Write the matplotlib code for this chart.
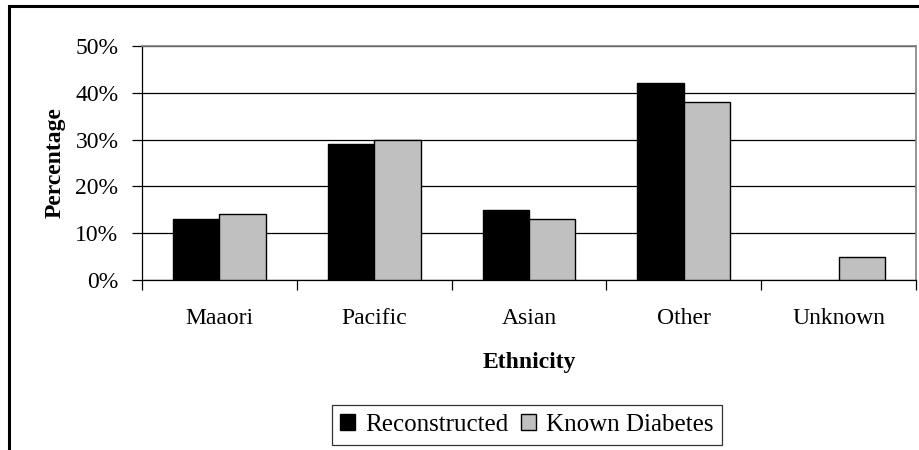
import matplotlib.pyplot as plt
import matplotlib.patches as mpatches
import numpy as np

ethnicity = ['Maaori', 'Pacific', 'Asian', 'Other', 'Unknown']
reconstructed = [13, 29, 15, 42, 0]
known_diabetes = [14, 30, 13, 38, 5]

plt.rcParams['font.family'] = ['Liberation Serif', 'DejaVu Serif']

fig = plt.figure(figsize=(9.2, 4.5), dpi=100)
ax = fig.add_axes([142 / 920, 1 - 280 / 450, 774 / 920, 234 / 450])

x = np.arange(len(ethnicity))
w = 0.3
ax.bar(x - w / 2, reconstructed, w, color='black', edgecolor='black',
       linewidth=[1 if v > 0 else 0 for v in reconstructed],
       label='Reconstructed', zorder=3)
ax.bar(x + w / 2, known_diabetes, w, color='#c0c0c0', edgecolor='black',
       linewidth=[1 if v > 0 else 0 for v in known_diabetes],
       label='Known Diabetes', zorder=3)

ax.set_xlim(-0.5, len(ethnicity) - 0.5)
ax.set_ylim(0, 50)
ax.set_yticks(range(0, 51, 10))
ax.set_yticklabels([f'{v}%' for v in range(0, 51, 10)], fontsize=17)
ax.yaxis.grid(True, color='black', linewidth=0.9, zorder=0)

# category labels between boundary ticks
ax.set_xticks(np.arange(-0.5, len(ethnicity), 1))
ax.set_xticklabels([])
ax.set_xticks(x, minor=True)
ax.set_xticklabels(ethnicity, minor=True, fontsize=17)
ax.tick_params(axis='x', which='minor', length=0, pad=20)
ax.tick_params(axis='x', which='major', length=7, direction='out', width=0.9)
ax.tick_params(axis='y', length=7, direction='out', width=0.9, pad=10)

for side in ['top', 'right']:
    ax.spines[side].set_color('#808080')
    ax.spines[side].set_linewidth(1.2)
for side in ['left', 'bottom']:
    ax.spines[side].set_color('black')
    ax.spines[side].set_linewidth(0.9)

ax.set_xlabel('Ethnicity', fontsize=17, fontweight='bold', labelpad=17)
ax.set_ylabel('Percentage', fontsize=17, fontweight='bold', labelpad=7)

leg = fig.legend(loc='center', bbox_to_anchor=(527 / 920, 1 - 425 / 450),
                 ncol=2, fontsize=18, frameon=True, fancybox=False,
                 handlelength=0.6, handleheight=0.6, handletextpad=0.4,
                 columnspacing=0.5, borderpad=0.35, borderaxespad=0)
leg.get_frame().set_edgecolor('black')
leg.get_frame().set_linewidth(0.9)

# outer frame of the chart
fig.patches.append(mpatches.Rectangle((9 / 920, -0.1), 1.2, 1.1 - 6 / 450,
                                      transform=fig.transFigure, fill=False,
                                      edgecolor='black', linewidth=2.2))

fig.savefig('out.png', dpi=100)
